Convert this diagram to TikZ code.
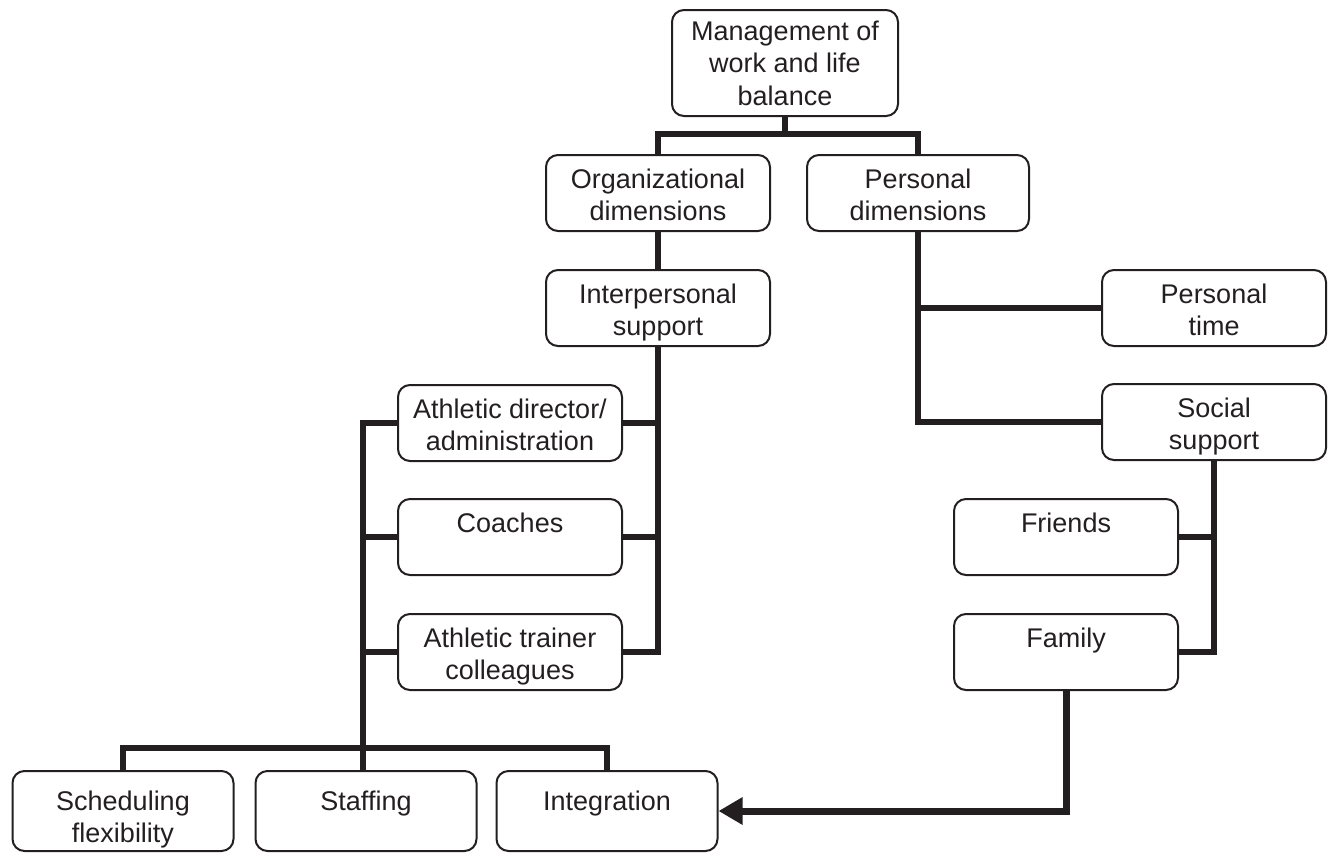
\documentclass[tikz,border=0pt]{standalone}
\usepackage{fontspec}
\setmainfont{Liberation Sans}
\usetikzlibrary{arrows.meta}
\definecolor{ink}{HTML}{231F20}
\begin{document}
\begin{tikzpicture}[x=1pt,y=-1pt,
  basebox/.style={draw=ink, line width=2pt, rounded corners=12pt, minimum width=224pt,
    minimum height=76pt, align=center, inner sep=0pt,
    font=\fontsize{27}{32.5}\selectfont, text=ink},
  box/.style={basebox, text height=20pt, text depth=30pt},
  twobox/.style={basebox, text height=62pt, text depth=7pt},
  bottombox/.style={basebox, minimum width=221pt, minimum height=80pt, text height=20pt, text depth=22pt},
  bottomtwobox/.style={basebox, minimum width=221pt, minimum height=80pt, text height=70pt, text depth=7pt},
  link/.style={draw=ink, line width=6pt},
  arrowlink/.style={draw=ink, line width=7pt, -{Triangle[length=24pt,width=26pt]}},
]
\useasboundingbox (0,0) rectangle (1329,857);
\node[basebox, minimum width=226pt, minimum height=106pt] (mgmt) at (785,63) {Management of\\work and life\\balance};
\node[twobox] (org) at (658,193) {Organizational\\dimensions};
\node[twobox, minimum width=222pt] (pers) at (918,193) {Personal\\dimensions};
\node[twobox] (interp) at (658,308) {Interpersonal\\support};
\node[twobox] (ptime) at (1214,308) {Personal\\time};
\node[twobox] (athdir) at (510,423) {Athletic director/\\administration};
\node[twobox] (social) at (1214,422) {Social\\support};
\node[box] (coaches) at (510,537) {Coaches};
\node[box] (friends) at (1066,537) {Friends};
\node[twobox] (athtr) at (510,652) {Athletic trainer\\colleagues};
\node[box] (family) at (1066,652) {Family};
\node[bottomtwobox] (sched) at (123,811) {Scheduling\\flexibility};
\node[bottombox] (staff) at (366,811) {Staffing};
\node[bottombox] (integ) at (607,811) {Integration};

\coordinate (tb) at (785,134);
\coordinate (lb) at (363,748);

% top level
\draw[link] (mgmt.south) -- (tb);
\draw[link] (org.north) |- (tb) -| (pers.north);
\draw[link] (org.south) -- (interp.north);
% interpersonal support
\draw[link] (interp.south) |- (athtr.east);
\draw[link] (athdir.east) -- (athdir.east -| interp.south);
\draw[link] (coaches.east) -- (coaches.east -| interp.south);
% left bus
\draw[link] (athdir.west) -| (lb);
\draw[link] (coaches.west) -- (coaches.west -| lb);
\draw[link] (athtr.west) -- (athtr.west -| lb);
% bottom bus
\draw[link] (sched.north) |- (lb) -| (integ.north);
\draw[link] (lb) -- (lb |- staff.north);
% personal dimensions
\draw[link] (pers.south) |- (social.west);
\draw[link] (ptime.west) -- (ptime.west -| pers.south);
% social support
\draw[link] (social.south) |- (family.east);
\draw[link] (friends.east) -- (friends.east -| social.south);
% arrow
\draw[arrowlink] (family.south) |- (integ.east);
\end{tikzpicture}
\end{document}
